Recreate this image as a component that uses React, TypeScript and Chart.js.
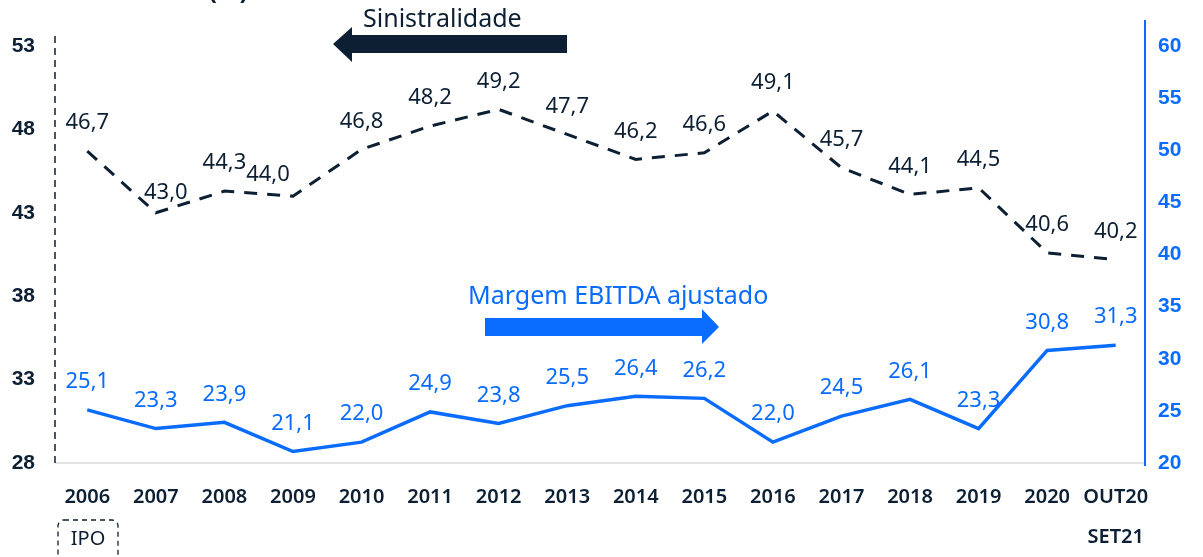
import React, { useEffect, useRef } from "react";
import { Chart, registerables } from "chart.js";

Chart.register(...registerables);

const categories = ["2006","2007","2008","2009","2010","2011","2012","2013","2014","2015","2016","2017","2018","2019","2020","OUT20"];
const sinistralidade = [46.7,43.0,44.3,44.0,46.8,48.2,49.2,47.7,46.2,46.6,49.1,45.7,44.1,44.5,40.6,40.2];
const margemEbitda = [25.1,23.3,23.9,21.1,22.0,24.9,23.8,25.5,26.4,26.2,22.0,24.5,26.1,23.3,30.8,31.3];
const leftTicks = { min: 28, max: 53, step: 5 };
const rightTicks = { min: 20, max: 60, step: 5 };

const NAVY = "#0d1f33";
const BLUE = "#0a6cff";
const FONT = "'Noto Sans', sans-serif";

// style: small label nudges (pixels) for the dashed series, as in the original
const labelNudge: Record<number, [number, number]> = { 1: [10, 8], 3: [-25, 7] };

const fmt = (v: number) => v.toFixed(1).replace(".", ",");

const overlay = {
  id: "overlay",
  afterDatasetsDraw(chart: any) {
    const ctx = chart.ctx;
    const ca = chart.chartArea;
    ctx.save();

    ctx.strokeStyle = "#d9d9d9";
    ctx.lineWidth = 1.5;
    ctx.beginPath();
    ctx.moveTo(55, ca.bottom);
    ctx.lineTo(1145, ca.bottom);
    ctx.stroke();

    ctx.strokeStyle = NAVY;
    ctx.lineWidth = 1.5;
    ctx.setLineDash([7, 5]);
    ctx.beginPath();
    ctx.moveTo(55, 36);
    ctx.lineTo(55, ca.bottom);
    ctx.stroke();
    ctx.setLineDash([]);

    ctx.strokeStyle = BLUE;
    ctx.lineWidth = 2;
    ctx.beginPath();
    ctx.moveTo(1145, 20);
    ctx.lineTo(1145, 466);
    ctx.stroke();

    ctx.font = `22px ${FONT}`;
    ctx.textAlign = "center";
    ctx.textBaseline = "middle";
    const sets = [
      { idx: 0, vals: sinistralidade, color: NAVY, nudge: labelNudge },
      { idx: 1, vals: margemEbitda, color: BLUE, nudge: {} as Record<number, [number, number]> },
    ];
    sets.forEach((s) => {
      const meta = chart.getDatasetMeta(s.idx);
      ctx.fillStyle = s.color;
      meta.data.forEach((pt: any, i: number) => {
        const n = s.nudge[i] || [0, 0];
        ctx.fillText(fmt(s.vals[i]), pt.x + n[0], pt.y - 28 + n[1]);
      });
    });

    ctx.fillStyle = NAVY;
    ctx.font = `25px ${FONT}`;
    ctx.textAlign = "left";
    ctx.textBaseline = "alphabetic";
    ctx.fillText("Sinistralidade", 363, 27);
    ctx.beginPath();
    ctx.moveTo(333, 44);
    ctx.lineTo(352, 27);
    ctx.lineTo(352, 35);
    ctx.lineTo(567, 35);
    ctx.lineTo(567, 53);
    ctx.lineTo(352, 53);
    ctx.lineTo(352, 62);
    ctx.closePath();
    ctx.fill();

    ctx.fillStyle = BLUE;
    ctx.fillText("Margem EBITDA ajustado", 468, 304);
    ctx.beginPath();
    ctx.moveTo(485, 318);
    ctx.lineTo(702, 318);
    ctx.lineTo(702, 309);
    ctx.lineTo(719, 327);
    ctx.lineTo(702, 344);
    ctx.lineTo(702, 336);
    ctx.lineTo(485, 336);
    ctx.closePath();
    ctx.fill();

    ctx.fillStyle = NAVY;
    ctx.font = `bold 25px ${FONT}`;
    ctx.textAlign = "right";
    ctx.fillText("Sinistralidade (%)", 248, -1);

    ctx.strokeStyle = NAVY;
    ctx.lineWidth = 1.3;
    ctx.setLineDash([5, 4]);
    ctx.beginPath();
    if (ctx.roundRect) ctx.roundRect(58, 520, 60, 50, 6);
    else ctx.rect(58, 520, 60, 50);
    ctx.stroke();
    ctx.setLineDash([]);
    ctx.font = `20px ${FONT}`;
    ctx.textAlign = "center";
    ctx.textBaseline = "middle";
    ctx.fillText("IPO", 88, 539);

    const xs = chart.scales.x;
    ctx.font = `600 20px ${FONT}`;
    ctx.fillText("SET21", xs.getPixelForValue(categories.length - 1), 537);

    ctx.restore();
  },
};

export default function App() {
  const ref = useRef<HTMLCanvasElement | null>(null);
  useEffect(() => {
    if (!ref.current) return;
    const chart = new Chart(ref.current, {
      type: "line",
      data: {
        labels: categories,
        datasets: [
          {
            label: "Sinistralidade",
            data: sinistralidade,
            yAxisID: "y",
            borderColor: NAVY,
            borderWidth: 3,
            borderDash: [13, 10],
            pointRadius: 0,
            tension: 0,
            fill: false,
          },
          {
            label: "Margem EBITDA ajustado",
            data: margemEbitda,
            yAxisID: "y1",
            borderColor: BLUE,
            borderWidth: 3.5,
            pointRadius: 0,
            tension: 0,
            fill: false,
          },
        ],
      },
      options: {
        responsive: false,
        animation: false,
        layout: { padding: { top: 46, left: 0, right: 0, bottom: 0 } },
        plugins: { legend: { display: false }, tooltip: { enabled: false }, title: { display: false } },
        scales: {
          x: {
            offset: true,
            grid: { display: false, drawTicks: false },
            border: { display: false },
            ticks: { color: NAVY, font: { family: FONT, size: 20, weight: "600" }, padding: 22, maxRotation: 0, autoSkip: false },
            afterFit: (s: any) => { s.height = 94; },
          },
          y: {
            position: "left",
            min: leftTicks.min,
            max: leftTicks.max,
            grid: { display: false, drawTicks: false },
            border: { display: false },
            ticks: { stepSize: leftTicks.step, color: NAVY, font: { family: "'Liberation Sans', Arial, sans-serif", size: 21, weight: "bold" }, padding: 18 },
            afterFit: (s: any) => { s.width = 53; },
          },
          y1: {
            position: "right",
            min: rightTicks.min,
            max: rightTicks.max,
            grid: { display: false, drawTicks: false },
            border: { display: false },
            ticks: { stepSize: rightTicks.step, color: BLUE, font: { family: "'Liberation Sans', Arial, sans-serif", size: 21, weight: "bold" }, padding: 8 },
            afterFit: (s: any) => { s.width = 53; },
          },
        },
      },
      plugins: [overlay],
    });
    return () => chart.destroy();
  }, []);
  return (
    <div style={{ position: "fixed", left: 0, top: 0, width: 1203, height: 557, background: "#fff" }}>
      <canvas ref={ref} width={1203} height={557} style={{ display: "block" }} />
    </div>
  );
}
